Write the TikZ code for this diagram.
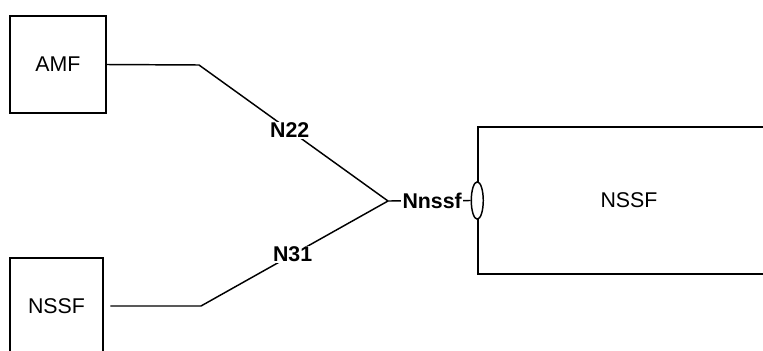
\documentclass[tikz,border=0pt]{standalone}
\usepackage{fontspec}
\setmainfont{Liberation Sans}
\usetikzlibrary{shapes.geometric}

\begin{document}
\begin{tikzpicture}[
  x=0.75pt, y=-0.75pt,
  nf/.style={draw, line width=1.1pt, font=\fontsize{16}{19}\selectfont,
             align=center},
  ifc/.style={fill=white, inner sep=1pt, font=\fontsize{16}{19}\selectfont\bfseries},
  link/.style={line width=1.1pt},
  port/.style={draw, ellipse, line width=1.1pt, fill=white, minimum width=9pt,
               minimum height=28pt, inner sep=0pt},
]
  \clip (0,0) rectangle (763,350);

  \node[nf, minimum width=72pt, minimum height=72.75pt] (amf) at (58,64.5) {AMF};
  \node[nf, minimum width=69.75pt, minimum height=72pt] (nssfa) at (56.5,306) {NSSF};
  \node[nf, minimum width=226.5pt, minimum height=110.25pt] (nssfb) at (629,200.5) {NSSF};
  \node[port] (svc) at (nssfb.west) {};

  \coordinate (hub) at (388,201);
  \coordinate (bendA) at (199,65);
  \coordinate (bendB) at (201,306);

  \draw[link] (amf.east) -- (bendA) -- node[ifc, pos=0.48] {N22} (hub);
  \draw[link, shorten <=5pt] (nssfa.east) -- (bendB) -- node[ifc, pos=0.49] {N31} (hub);
  \draw[link] (hub) -- node[ifc, pos=0.535] {Nnssf} (svc.west);
\end{tikzpicture}
\end{document}
